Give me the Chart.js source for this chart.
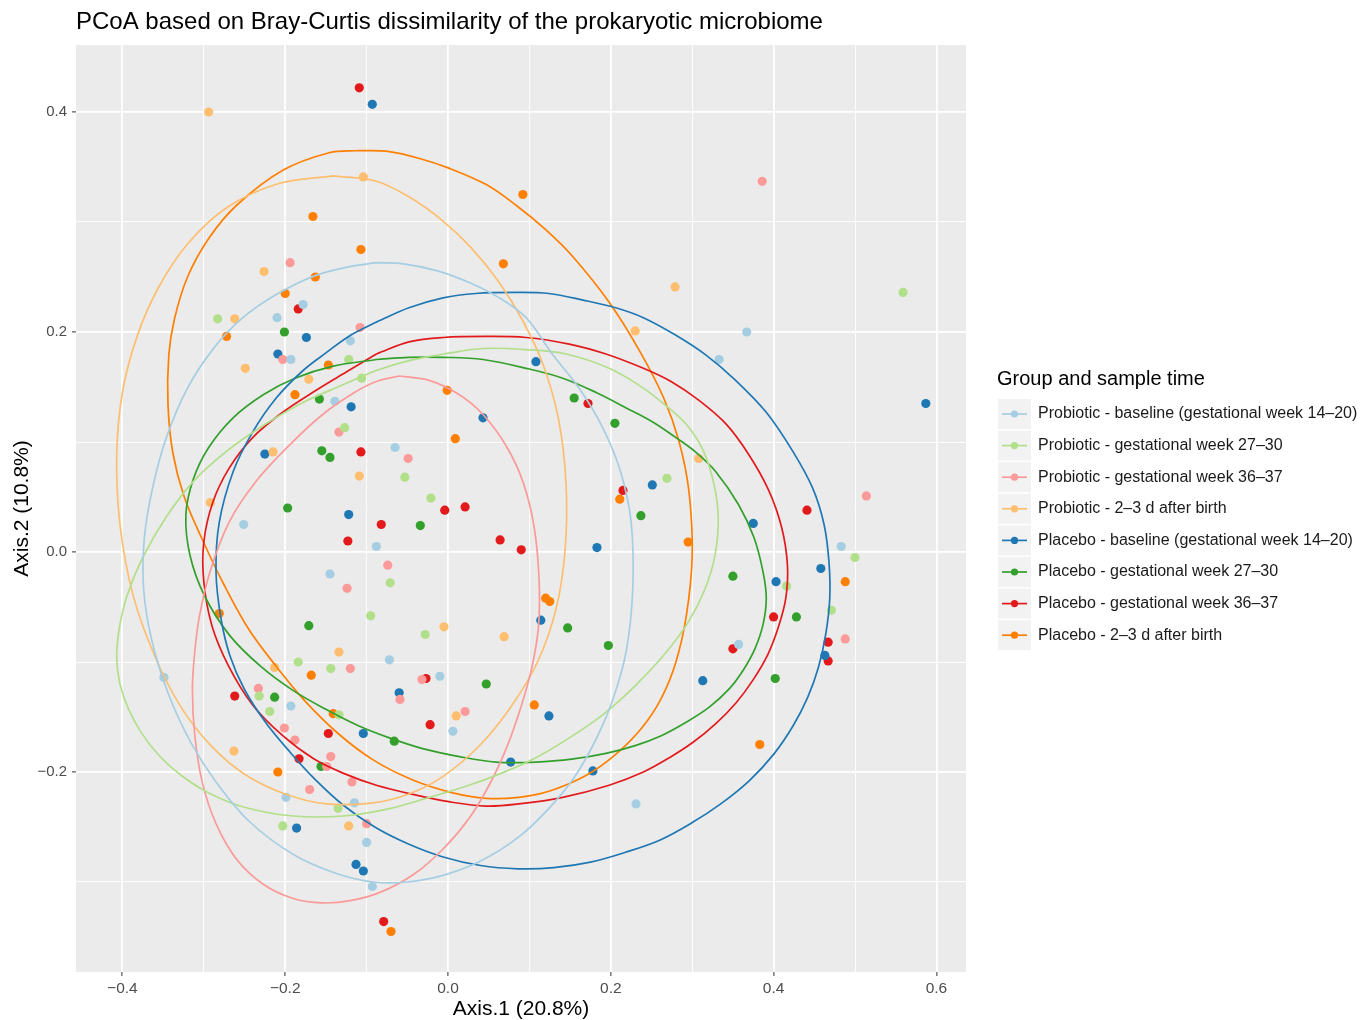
<!DOCTYPE html>
<html>
<head>
<meta charset="utf-8">
<script src="https://cdn.jsdelivr.net/npm/chart.js@4.4.0/dist/chart.umd.min.js"></script>
<style>
  html, body { margin: 0; padding: 0; background: #fff; }
</style>
</head>
<body>
<canvas id="myChart" width="1362" height="1020"></canvas>
<script>
// groups, colours
var groupNames = [
    "Probiotic - baseline (gestational week 14–20)",
    "Probiotic - gestational week 27–30",
    "Probiotic - gestational week 36–37",
    "Probiotic - 2–3 d after birth",
    "Placebo - baseline (gestational week 14–20)",
    "Placebo - gestational week 27–30",
    "Placebo - gestational week 36–37",
    "Placebo - 2–3 d after birth"
];
var groupColors = ["#A6CEE3", "#B2DF8A", "#FB9A99", "#FDBF6F", "#1F78B4", "#33A02C", "#E31A1C", "#FF7F00"];

// axis ticks
var xMajor = [-0.4, -0.2, 0, 0.2, 0.4, 0.6];
var xMinor = [-0.3, -0.1, 0.1, 0.3, 0.5];
var xLabels = ["−0.4", "−0.2", "0.0", "0.2", "0.4", "0.6"];
var yMajor = [-0.2, 0, 0.2, 0.4];
var yMinor = [-0.3, -0.1, 0.1, 0.3];
var yLabels = ["−0.2", "0.0", "0.2", "0.4"];

// sample points [Axis.1, Axis.2]
var pb0Points = [[-0.349,-0.114],[-0.210,0.213],[-0.193,0.175],[-0.178,0.225],[-0.120,0.192],[-0.139,0.137],[-0.065,0.095],[-0.088,0.005],[-0.145,-0.020],[-0.251,0.025],[-0.072,-0.098],[-0.010,-0.113],[0.006,-0.163],[-0.193,-0.140],[-0.199,-0.223],[-0.115,-0.228],[-0.100,-0.264],[-0.093,-0.304],[0.231,-0.229],[0.333,0.175],[0.367,0.200],[0.483,0.005],[0.357,-0.084]];
var pg27Points = [[-0.283,0.212],[-0.122,0.175],[-0.106,0.158],[-0.127,0.113],[-0.053,0.068],[-0.021,0.049],[-0.071,-0.028],[-0.095,-0.058],[-0.028,-0.075],[-0.184,-0.100],[-0.144,-0.106],[-0.232,-0.131],[-0.219,-0.145],[-0.134,-0.148],[-0.135,-0.233],[-0.203,-0.249],[0.269,0.067],[0.500,-0.005],[0.416,-0.031],[0.471,-0.053],[0.559,0.236]];
var pg36Points = [[-0.194,0.263],[-0.108,0.204],[-0.203,0.175],[-0.134,0.109],[-0.049,0.085],[-0.074,-0.012],[-0.124,-0.033],[-0.120,-0.106],[-0.233,-0.124],[-0.201,-0.160],[-0.188,-0.171],[-0.144,-0.186],[-0.149,-0.195],[-0.118,-0.209],[-0.170,-0.216],[-0.100,-0.247],[-0.032,-0.116],[-0.059,-0.134],[0.021,-0.145],[0.386,0.337],[0.514,0.051],[0.488,-0.079]];
var pa2Points = [[-0.294,0.400],[-0.104,0.341],[-0.226,0.255],[-0.262,0.212],[-0.249,0.167],[-0.171,0.157],[-0.215,0.091],[-0.109,0.069],[-0.292,0.045],[-0.134,-0.091],[-0.213,-0.105],[-0.263,-0.181],[-0.122,-0.249],[-0.005,-0.068],[0.069,-0.077],[0.010,-0.149],[0.230,0.201],[0.279,0.241],[0.308,0.085]];
var pl0Points = [[-0.093,0.407],[-0.174,0.195],[-0.209,0.180],[-0.119,0.132],[-0.225,0.089],[-0.122,0.034],[0.108,0.173],[0.043,0.122],[0.251,0.061],[0.183,0.004],[0.114,-0.062],[0.587,0.135],[0.375,0.026],[0.458,-0.015],[0.403,-0.027],[0.463,-0.094],[-0.186,-0.251],[-0.113,-0.284],[-0.104,-0.290],[-0.060,-0.128],[0.124,-0.149],[0.077,-0.191],[0.178,-0.199],[-0.104,-0.165],[0.313,-0.117]];
var pl27Points = [[-0.201,0.200],[-0.158,0.139],[-0.155,0.092],[-0.145,0.086],[-0.197,0.040],[-0.171,-0.067],[0.155,0.140],[0.205,0.117],[-0.034,0.024],[0.237,0.033],[0.147,-0.069],[0.197,-0.085],[0.350,-0.022],[0.428,-0.059],[-0.213,-0.132],[-0.156,-0.195],[0.047,-0.120],[-0.066,-0.172],[0.402,-0.115]];
var pl36Points = [[-0.109,0.422],[-0.184,0.221],[-0.107,0.091],[-0.123,0.010],[0.172,0.135],[-0.082,0.025],[-0.004,0.038],[0.021,0.041],[0.064,0.011],[0.090,0.002],[0.215,0.056],[0.441,0.038],[0.400,-0.059],[0.467,-0.082],[0.467,-0.099],[0.350,-0.088],[-0.262,-0.131],[-0.147,-0.165],[-0.183,-0.188],[-0.027,-0.115],[-0.022,-0.157],[-0.079,-0.336]];
var pl2Points = [[-0.166,0.305],[-0.107,0.275],[-0.163,0.250],[-0.200,0.235],[-0.272,0.196],[0.092,0.325],[0.068,0.262],[-0.147,0.170],[-0.188,0.143],[-0.281,-0.056],[-0.001,0.147],[0.009,0.103],[0.120,-0.042],[0.125,-0.045],[0.211,0.048],[0.295,0.009],[0.488,-0.027],[-0.168,-0.112],[-0.209,-0.200],[-0.141,-0.147],[0.106,-0.139],[-0.070,-0.345],[0.383,-0.175]];

// ellipse outlines
var pb0Ellipse = [[-0.088,0.263],[-0.055,0.262],[-0.015,0.256],[0.026,0.245],[0.063,0.231],[0.096,0.213],[0.129,0.179],[0.161,0.149],[0.190,0.113],[0.212,0.073],[0.225,0.027],[0.227,-0.033],[0.219,-0.090],[0.203,-0.133],[0.182,-0.170],[0.155,-0.205],[0.124,-0.233],[0.087,-0.259],[0.040,-0.281],[-0.006,-0.294],[-0.050,-0.300],[-0.092,-0.300],[-0.138,-0.292],[-0.190,-0.275],[-0.244,-0.245],[-0.285,-0.209],[-0.316,-0.173],[-0.343,-0.130],[-0.364,-0.080],[-0.374,-0.033],[-0.373,0.013],[-0.363,0.058],[-0.346,0.104],[-0.320,0.149],[-0.287,0.186],[-0.252,0.213],[-0.211,0.234],[-0.164,0.251],[-0.124,0.259]];
var pg27Ellipse = [[-0.006,0.180],[0.043,0.185],[0.096,0.184],[0.145,0.180],[0.198,0.167],[0.240,0.149],[0.271,0.131],[0.294,0.115],[0.313,0.093],[0.326,0.064],[0.332,0.032],[0.328,-0.003],[0.315,-0.035],[0.295,-0.064],[0.266,-0.093],[0.228,-0.123],[0.190,-0.148],[0.149,-0.169],[0.108,-0.187],[0.066,-0.201],[0.022,-0.213],[-0.027,-0.224],[-0.076,-0.234],[-0.129,-0.240],[-0.190,-0.240],[-0.250,-0.232],[-0.294,-0.219],[-0.328,-0.203],[-0.355,-0.185],[-0.377,-0.164],[-0.393,-0.142],[-0.403,-0.120],[-0.407,-0.097],[-0.404,-0.070],[-0.394,-0.039],[-0.375,-0.005],[-0.346,0.032],[-0.313,0.064],[-0.273,0.091],[-0.227,0.115],[-0.178,0.136],[-0.129,0.152],[-0.088,0.165],[-0.048,0.174]];
var pg36Ellipse = [[-0.060,0.160],[-0.023,0.156],[0.014,0.143],[0.043,0.125],[0.071,0.097],[0.092,0.064],[0.106,0.022],[0.112,-0.027],[0.111,-0.069],[0.103,-0.105],[0.090,-0.140],[0.073,-0.176],[0.052,-0.210],[0.026,-0.242],[-0.006,-0.270],[-0.042,-0.293],[-0.082,-0.309],[-0.120,-0.317],[-0.155,-0.319],[-0.190,-0.315],[-0.227,-0.302],[-0.260,-0.279],[-0.285,-0.247],[-0.302,-0.209],[-0.311,-0.167],[-0.314,-0.125],[-0.311,-0.090],[-0.305,-0.057],[-0.292,-0.017],[-0.269,0.027],[-0.236,0.064],[-0.195,0.097],[-0.154,0.125],[-0.115,0.145],[-0.088,0.155]];
var pa2Ellipse = [[-0.141,0.342],[-0.088,0.337],[-0.046,0.322],[-0.008,0.302],[0.028,0.277],[0.063,0.245],[0.092,0.210],[0.117,0.170],[0.136,0.120],[0.145,0.062],[0.144,0.003],[0.133,-0.051],[0.110,-0.100],[0.078,-0.140],[0.040,-0.175],[-0.006,-0.204],[-0.048,-0.220],[-0.092,-0.228],[-0.150,-0.229],[-0.200,-0.220],[-0.248,-0.203],[-0.290,-0.177],[-0.328,-0.141],[-0.360,-0.095],[-0.387,-0.039],[-0.403,0.025],[-0.407,0.088],[-0.400,0.145],[-0.382,0.196],[-0.356,0.240],[-0.320,0.280],[-0.272,0.313],[-0.208,0.335]];
var pl0Ellipse = [[-0.088,0.209],[-0.048,0.222],[-0.006,0.231],[0.034,0.235],[0.084,0.236],[0.124,0.235],[0.166,0.229],[0.206,0.222],[0.240,0.213],[0.280,0.197],[0.317,0.179],[0.352,0.157],[0.391,0.127],[0.424,0.091],[0.448,0.058],[0.462,0.025],[0.468,-0.009],[0.469,-0.042],[0.464,-0.075],[0.455,-0.105],[0.442,-0.132],[0.424,-0.158],[0.400,-0.184],[0.370,-0.208],[0.335,-0.229],[0.300,-0.246],[0.260,-0.262],[0.218,-0.273],[0.175,-0.282],[0.130,-0.287],[0.086,-0.288],[0.040,-0.285],[-0.007,-0.277],[-0.050,-0.265],[-0.090,-0.250],[-0.129,-0.230],[-0.163,-0.207],[-0.194,-0.182],[-0.224,-0.155],[-0.250,-0.125],[-0.268,-0.094],[-0.279,-0.060],[-0.285,-0.018],[-0.281,0.027],[-0.264,0.073],[-0.240,0.109],[-0.211,0.140],[-0.178,0.165],[-0.150,0.181],[-0.122,0.196]];
var pl27Ellipse = [[-0.088,0.175],[-0.048,0.177],[-0.006,0.177],[0.043,0.175],[0.096,0.167],[0.141,0.158],[0.182,0.145],[0.219,0.131],[0.252,0.118],[0.280,0.104],[0.304,0.091],[0.329,0.073],[0.357,0.043],[0.376,0.013],[0.387,-0.018],[0.391,-0.042],[0.387,-0.066],[0.377,-0.088],[0.363,-0.107],[0.346,-0.124],[0.321,-0.141],[0.292,-0.155],[0.262,-0.167],[0.230,-0.176],[0.194,-0.183],[0.154,-0.188],[0.108,-0.191],[0.059,-0.191],[0.014,-0.186],[-0.030,-0.179],[-0.072,-0.169],[-0.110,-0.158],[-0.150,-0.143],[-0.190,-0.126],[-0.230,-0.104],[-0.268,-0.076],[-0.299,-0.040],[-0.317,-0.003],[-0.322,0.034],[-0.313,0.066],[-0.294,0.095],[-0.264,0.122],[-0.227,0.143],[-0.188,0.158],[-0.141,0.169]];
var pl36Ellipse = [[-0.088,0.180],[-0.048,0.191],[-0.006,0.195],[0.047,0.196],[0.096,0.195],[0.149,0.189],[0.194,0.180],[0.240,0.167],[0.274,0.155],[0.308,0.138],[0.342,0.116],[0.370,0.088],[0.394,0.056],[0.410,0.022],[0.417,-0.012],[0.415,-0.042],[0.406,-0.068],[0.393,-0.093],[0.375,-0.116],[0.354,-0.137],[0.329,-0.156],[0.301,-0.173],[0.272,-0.187],[0.240,-0.200],[0.198,-0.212],[0.141,-0.223],[0.087,-0.229],[0.047,-0.231],[0.001,-0.227],[-0.039,-0.221],[-0.088,-0.212],[-0.129,-0.201],[-0.165,-0.188],[-0.203,-0.167],[-0.240,-0.139],[-0.270,-0.103],[-0.290,-0.067],[-0.300,-0.027],[-0.300,0.009],[-0.289,0.045],[-0.269,0.076],[-0.240,0.104],[-0.203,0.127],[-0.162,0.147],[-0.124,0.164]];
var pl2Ellipse = [[-0.109,0.365],[-0.072,0.364],[-0.036,0.358],[0.001,0.349],[0.047,0.334],[0.084,0.315],[0.120,0.293],[0.154,0.268],[0.198,0.227],[0.236,0.182],[0.265,0.140],[0.284,0.100],[0.296,0.055],[0.300,-0.003],[0.293,-0.057],[0.280,-0.100],[0.262,-0.133],[0.238,-0.160],[0.206,-0.184],[0.170,-0.203],[0.126,-0.217],[0.087,-0.223],[0.047,-0.224],[0.006,-0.219],[-0.044,-0.207],[-0.092,-0.189],[-0.135,-0.165],[-0.175,-0.136],[-0.211,-0.104],[-0.245,-0.070],[-0.275,-0.030],[-0.301,0.010],[-0.324,0.050],[-0.338,0.090],[-0.344,0.134],[-0.343,0.179],[-0.336,0.212],[-0.320,0.250],[-0.294,0.285],[-0.260,0.315],[-0.203,0.347],[-0.146,0.363]];

var allPoints = [pb0Points, pg27Points, pg36Points, pa2Points, pl0Points, pl27Points, pl36Points, pl2Points];
var allEllipses = [pb0Ellipse, pg27Ellipse, pg36Ellipse, pa2Ellipse, pl0Ellipse, pl27Ellipse, pl36Ellipse, pl2Ellipse];

function toXY(arr) {
    return arr.map(function(p) { return {x: p[0], y: p[1]}; });
}
function isIn(list, v) {
    for (var i = 0; i < list.length; i++) if (Math.abs(list[i] - v) < 1e-9) return i;
    return -1;
}

Chart.defaults.font.family = "'Liberation Sans', Arial, sans-serif";

var datasets = [];
for (var i = 0; i < groupNames.length; i++) {
    var ring = allEllipses[i].concat([allEllipses[i][0]]);
    datasets.push({
        label: groupNames[i] + " ellipse",
        data: toXY(ring),
        showLine: true,
        borderColor: groupColors[i],
        borderWidth: 1.7,
        pointRadius: 0,
        tension: 0.35,
        fill: false,
        order: 0
    });
}
for (var i = 0; i < groupNames.length; i++) {
    datasets.push({
        label: groupNames[i],
        data: toXY(allPoints[i]),
        showLine: false,
        backgroundColor: groupColors[i],
        borderWidth: 0,
        pointRadius: 4.6,
        order: 1
    });
}

var panelBg = {
    id: "panelBg",
    beforeDraw: function(chart) {
        var a = chart.chartArea, c = chart.ctx;
        c.save();
        c.fillStyle = "#EBEBEB";
        c.fillRect(a.left, a.top, a.right - a.left, a.bottom - a.top);
        c.restore();
    }
};

var titleAndLegend = {
    id: "titleAndLegend",
    afterDraw: function(chart) {
        var c = chart.ctx;
        c.save();
        c.fillStyle = "#000";
        c.font = "24px 'Liberation Sans', Arial, sans-serif";
        c.textBaseline = "middle";
        c.textAlign = "left";
        c.fillText("PCoA based on Bray-Curtis dissimilarity of the prokaryotic microbiome", 76, 22);

        c.font = "20px 'Liberation Sans', Arial, sans-serif";
        c.fillText("Group and sample time", 997, 379);

        var y0 = 414, step = 31.6;
        for (var i = 0; i < groupNames.length; i++) {
            var cy = y0 + i * step;
            c.fillStyle = "#F2F2F2";
            c.fillRect(998, cy - 15, 33, 30);
            c.strokeStyle = groupColors[i];
            c.lineWidth = 1.7;
            c.beginPath();
            c.moveTo(1002, cy);
            c.lineTo(1027, cy);
            c.stroke();
            c.fillStyle = groupColors[i];
            c.beginPath();
            c.arc(1014.5, cy, 3.6, 0, Math.PI * 2);
            c.fill();
            c.fillStyle = "#1A1A1A";
            c.font = "16px 'Liberation Sans', Arial, sans-serif";
            c.fillText(groupNames[i], 1038, cy);
        }
        c.restore();
    }
};

function gridOpts(major) {
    return {
        color: "#FFFFFF",
        lineWidth: function(ctx) { return (ctx.tick && isIn(major, ctx.tick.value) >= 0) ? 1.8 : 0.9; },
        drawTicks: true,
        tickLength: 4,
        tickWidth: 1,
        tickColor: function(ctx) { return (ctx.tick && isIn(major, ctx.tick.value) >= 0) ? "#333333" : "rgba(0,0,0,0)"; }
    };
}

const ctx = document.getElementById("myChart").getContext("2d");
const myChart = new Chart(ctx, {
    type: "scatter",
    data: { datasets: datasets },
    options: {
        responsive: false,
        devicePixelRatio: 1,
        animation: false,
        layout: { padding: { top: 45, right: 396, left: 0, bottom: 0 } },
        plugins: {
            legend: { display: false },
            tooltip: { enabled: false },
            title: { display: false }
        },
        scales: {
            x: {
                type: "linear",
                min: (76 - 448) / 814,
                max: (966 - 448) / 814,
                afterBuildTicks: function(scale) {
                    scale.ticks = xMajor.concat(xMinor).sort(function(a, b) { return a - b; }).map(function(v) { return {value: v}; });
                },
                afterFit: function(scale) { scale.height = 48; },
                grid: gridOpts(xMajor),
                border: { display: false },
                ticks: {
                    autoSkip: false,
                    maxRotation: 0,
                    padding: 3,
                    color: "#4D4D4D",
                    font: { size: 15.5 },
                    callback: function(v) { var k = isIn(xMajor, v); return k >= 0 ? xLabels[k] : ""; }
                },
                title: {
                    display: true,
                    text: "Axis.1 (20.8%)",
                    color: "#000",
                    font: { size: 21, lineHeight: 1 },
                    padding: { top: 0, bottom: 0 }
                }
            },
            y: {
                type: "linear",
                min: (552 - 972) / 1100,
                max: (552 - 45) / 1100,
                afterBuildTicks: function(scale) {
                    scale.ticks = yMajor.concat(yMinor).sort(function(a, b) { return a - b; }).map(function(v) { return {value: v}; });
                },
                afterFit: function(scale) { scale.width = 76; },
                grid: gridOpts(yMajor),
                border: { display: false },
                ticks: {
                    autoSkip: false,
                    padding: 5,
                    color: "#4D4D4D",
                    font: { size: 15 },
                    callback: function(v) { var k = isIn(yMajor, v); return k >= 0 ? yLabels[k] : ""; }
                },
                title: {
                    display: true,
                    text: "Axis.2 (10.8%)",
                    color: "#000",
                    font: { size: 21, lineHeight: 1 },
                    padding: { top: 12, bottom: 0 }
                }
            }
        }
    },
    plugins: [panelBg, titleAndLegend]
});
</script>
</body>
</html>
